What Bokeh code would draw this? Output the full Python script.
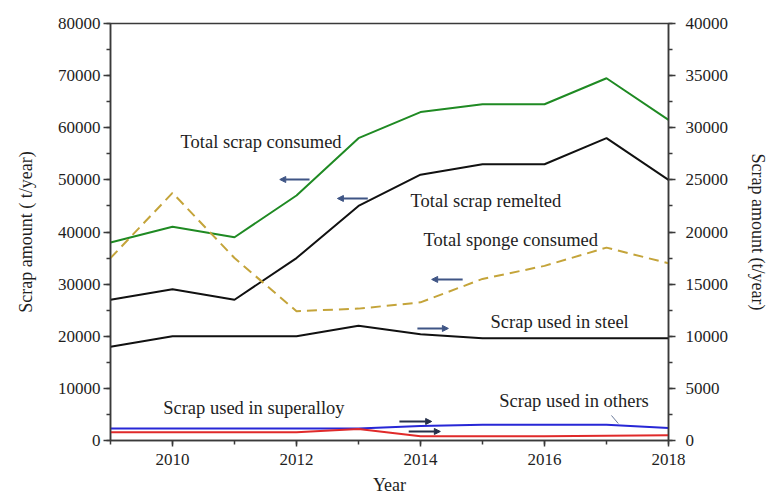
from bokeh.plotting import figure
from bokeh.models import (Range1d, LinearAxis, SingleIntervalTicker, Arrow,
                          NormalHead, Label)
from bokeh.embed import file_html
from bokeh.resources import INLINE

# Annual titanium scrap flows (t/year)
years = [2009, 2010, 2011, 2012, 2013, 2014, 2015, 2016, 2017, 2018]

# left axis series
total_scrap_consumed = [38000, 41000, 39000, 47000, 58000, 63000, 64500, 64500, 69500, 61500]
total_scrap_remelted = [27000, 29000, 27000, 35000, 45000, 51000, 53000, 53000, 58000, 50000]
total_sponge_consumed = [35000, 47500, 35000, 24800, 25300, 26500, 31000, 33500, 37000, 34000]

# right axis series
scrap_used_in_steel = [9000, 10000, 10000, 10000, 11000, 10200, 9800, 9800, 9800, 9800]
scrap_used_in_superalloy = [800, 800, 800, 800, 1100, 400, 400, 400, 450, 500]
scrap_used_in_others = [1150, 1150, 1150, 1150, 1150, 1400, 1500, 1500, 1500, 1200]

SERIF = "Liberation Serif"
AX = "#3a3a3a"
TXT = "#1e1e1e"

p = figure(width=773, height=499, output_backend="svg", toolbar_location=None,
           x_range=Range1d(2009, 2018), y_range=Range1d(0, 80000),
           min_border_left=110, min_border_right=105, min_border_top=23,
           min_border_bottom=59)
p.extra_y_ranges = {"right": Range1d(0, 40000)}
p.xgrid.visible = False
p.ygrid.visible = False
p.outline_line_color = AX
p.outline_line_width = 1.5
p.background_fill_color = "white"
p.border_fill_color = "white"


def style_axis(ax):
    ax.axis_line_color = AX
    ax.axis_line_width = 1.5
    ax.major_tick_line_color = AX
    ax.minor_tick_line_color = AX
    ax.major_tick_line_width = 1.5
    ax.minor_tick_line_width = 1.5
    ax.major_tick_in = 0
    ax.minor_tick_in = 0
    ax.major_tick_out = 7
    ax.minor_tick_out = 4
    ax.major_label_text_font = SERIF
    ax.major_label_text_font_size = "17px"
    ax.major_label_text_color = TXT
    ax.axis_label_text_font = SERIF
    ax.axis_label_text_font_size = "18px"
    ax.axis_label_text_font_style = "normal"
    ax.axis_label_text_color = TXT


xa = p.xaxis[0]
xa.ticker = SingleIntervalTicker(interval=2, num_minor_ticks=2)
xa.axis_label = "Year"
style_axis(xa)
xa.major_tick_out = 6
xa.major_label_standoff = 7
xa.axis_label_standoff = 7

ya = p.yaxis[0]
ya.ticker = SingleIntervalTicker(interval=10000, num_minor_ticks=2)
ya.axis_label = "Scrap amount ( t/year)"
style_axis(ya)
ya.major_label_standoff = 3
ya.axis_label_standoff = 19

yr = LinearAxis(y_range_name="right", axis_label="Scrap amount (t/year)",
                ticker=SingleIntervalTicker(interval=5000, num_minor_ticks=2))
style_axis(yr)
yr.major_label_standoff = 10
yr.axis_label_standoff = 17
p.add_layout(yr, "right")

LW = 2
p.line(years, total_scrap_consumed, line_color="#1f8a23", line_width=LW)
p.line(years, total_scrap_remelted, line_color="#111111", line_width=LW)
p.line(years, total_sponge_consumed, line_color="#c4a43a", line_width=LW,
       line_dash="10 6")
p.line(years, scrap_used_in_steel, line_color="#111111", line_width=LW,
       y_range_name="right")
p.line(years, scrap_used_in_others, line_color="#2727d6", line_width=LW,
       y_range_name="right")
p.line(years, scrap_used_in_superalloy, line_color="#e02a2a", line_width=LW,
       y_range_name="right")

# series names written next to their curves
label_text = ["Total scrap consumed", "Total scrap remelted", "Total sponge consumed",
              "Scrap used in steel", "Scrap used in superalloy", "Scrap used in others"]
label_x = [2010.13, 2013.84, 2014.05, 2015.13, 2009.85, 2015.27]
label_y = [57200, 46000, 38400, 22800, 6300, 7500]
for t, lx, ly in zip(label_text, label_x, label_y):
    p.add_layout(Label(x=lx, y=ly, text=t, text_font=SERIF, text_font_size="18.5px",
                       text_color=TXT, text_baseline="middle"))

# leader from "others" to its curve
p.segment(x0=[2017.08], y0=[4800], x1=[2017.19], y1=[3260],
          line_color="#6a7a9a", line_width=1)

# arrows pointing to the axis each curve is read against
arrow_x0 = [2012.21, 2013.15, 2014.68, 2013.95, 2013.66, 2013.81]
arrow_x1 = [2011.73, 2012.66, 2014.18, 2014.45, 2014.18, 2014.32]
arrow_y = [50070, 46430, 30900, 21500, 3650, 1730]
arrow_col = ["#3f5585", "#3f5585", "#3f5585", "#3f5585", "#26304a", "#26304a"]
for x0, x1, ay, c in zip(arrow_x0, arrow_x1, arrow_y, arrow_col):
    p.add_layout(Arrow(end=NormalHead(size=6, fill_color=c, line_color=c),
                       x_start=x0, y_start=ay, x_end=x1, y_end=ay,
                       line_color=c, line_width=2))

open("out.html", "w").write(file_html(p, INLINE))
